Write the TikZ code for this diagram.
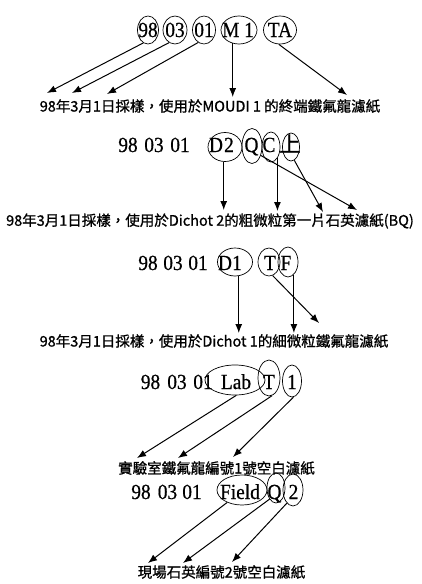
\documentclass[tikz,border=0pt]{standalone}
\usepackage{fontspec}
\setmainfont{Liberation Serif}
\newfontfamily\codefont[FakeStretch=0.9,FakeBold=0.6]{Liberation Serif}
\newfontfamily\cjk[FakeBold=1]{Noto Sans CJK TC}
\usetikzlibrary{arrows.meta,shapes.geometric}
\begin{document}
\begin{tikzpicture}[x=1pt,y=-1pt,
  code/.style={inner sep=0pt, text height=14pt, text depth=0pt, font=\codefont\fontsize{21.5}{21.5}\selectfont},
  ring/.style={ellipse, draw, line width=0.7pt, inner sep=0pt},
  lab/.style={inner sep=0pt, font=\cjk\fontsize{14.5}{16}\selectfont},
  arr/.style={-{Latex[length=9pt,width=7pt]}, line width=1pt}]
\useasboundingbox (0,0) rectangle (422,584);

% ---------- Row 1 ----------
\node[code] (t1a) at (148,30) {98};
\node[code] (t1b) at (175,30) {03};
\node[code] (t1c) at (204,30) {01};
\node[code] (t1d) at (238,30) {M 1};
\node[code] (t1e) at (280,30) {TA};
\node[ring, minimum width=21pt, minimum height=28pt] (e1a) at (148,30) {};
\node[ring, minimum width=24pt, minimum height=28pt] (e1b) at (175,30) {};
\node[ring, minimum width=23pt, minimum height=28pt] (e1c) at (204,30) {};
\node[ring, minimum width=36pt, minimum height=28pt] (e1d) at (239,30) {};
\node[ring, minimum width=33pt, minimum height=28pt] (e1e) at (280,30) {};
\node[lab] (L1) at (210,106) {98年3月1日採樣，使用於MOUDI 1 的終端鐵氟龍濾紙};
\coordinate (p1a) at (47,93);
\coordinate (p1b) at (72,93);
\coordinate (p1c) at (107,94);
\coordinate (p1d) at (233,97);
\coordinate (p1e) at (347,95);
\draw[arr] (e1a.250) -- (p1a);
\draw[arr] (e1b.245) -- (p1b);
\draw[arr] (e1c.245) -- (p1c);
\draw[arr] (e1d.245) -- (e1d.245 |- p1d);
\draw[arr] (e1e.265) -- (p1e);

% ---------- Row 2 ----------
\node[code] (t2a) at (128,145) {98};
\node[code] (t2b) at (154,145) {03};
\node[code] (t2c) at (180,145) {01};
\node[code] (t2d) at (216,145) {D};
\node[code] (t2e) at (229,145) {2};
\node[code] (t2f) at (251.5,145) {Q};
\node[code] (t2g) at (269,145) {C};
\node[code] (t2h) at (290,145) {\cjk 上};
\node[ring, minimum width=34pt, minimum height=29pt] (e2a) at (225,147) {};
\node[ring, minimum width=20pt, minimum height=35pt] (e2b) at (252,146) {};
\node[ring, minimum width=18pt, minimum height=30pt] (e2c) at (271,147) {};
\node[ring, minimum width=17pt, minimum height=28pt] (e2d) at (291,147) {};
\node[lab] (L2) at (210,221) {98年3月1日採樣，使用於Dichot 2的粗微粒第一片石英濾紙(BQ)};
\coordinate (p2a) at (223,210);
\coordinate (p2b) at (357,210);
\coordinate (p2c) at (277,211);
\coordinate (p2d) at (323,212);
\draw[arr] (e2a.265) -- (e2a.265 |- p2a);
\draw[arr] (e2b.313) -- (p2b);
\draw[arr] (e2c.300) -- (e2c.300 |- p2c);
\draw[arr] (e2d.284) -- (p2d);

% ---------- Row 3 ----------
\node[code] (t3a) at (148,263) {98};
\node[code] (t3b) at (173,263) {03};
\node[code] (t3c) at (198,263) {01};
\node[code] (t3d) at (225,263) {D};
\node[code] (t3e) at (237,263) {1};
\node[code] (t3f) at (270,263) {T};
\node[code] (t3g) at (286,263) {F};
\node[ring, minimum width=35pt, minimum height=28pt] (e3a) at (235,262) {};
\node[ring, minimum width=22pt, minimum height=28pt] (e3b) at (269,262) {};
\node[ring, minimum width=20pt, minimum height=30pt] (e3c) at (288,262) {};
\node[lab] (L3) at (214,341) {98年3月1日採樣，使用於Dichot 1的細微粒鐵氟龍濾紙};
\coordinate (p3a) at (239,333);
\coordinate (p3b) at (319,323);
\coordinate (p3c) at (293,333);
\draw[arr] (e3a.285) -- (e3a.285 |- p3a);
\draw[arr] (e3b.285) -- (p3b);
\draw[arr] (e3c.295) -- (e3c.295 |- p3c);

% ---------- Row 4 ----------
\node[code] (t4a) at (150.5,382) {98};
\node[code] (t4b) at (177,382) {03};
\node[code] (t4c) at (203,382) {01};
\node[code] (t4d) at (236,382) {Lab};
\node[code] (t4e) at (269,382) {T};
\node[code] (t4f) at (292,382) {1};
\node[ring, minimum width=60pt, minimum height=30pt] (e4a) at (235,380) {};
\node[ring, minimum width=22pt, minimum height=36pt] (e4b) at (269,378) {};
\node[ring, minimum width=19pt, minimum height=32pt] (e4c) at (292,381) {};
\node[lab] (L4) at (216.5,468) {實驗室鐵氟龍編號1號空白濾紙};
\coordinate (p4a) at (137,458);
\coordinate (p4b) at (178,458);
\coordinate (p4c) at (233,457);
\draw[arr] (e4a.275) -- (p4a);
\draw[arr] (e4b.280) -- (p4b);
\draw[arr] (e4c.275) -- (p4c);

% ---------- Row 5 ----------
\node[code] (t5a) at (141,492) {98};
\node[code] (t5b) at (167.5,492) {03};
\node[code] (t5c) at (192,492) {01};
\node[code] (t5d) at (240,492) {Field};
\node[code] (t5e) at (274.5,492) {Q};
\node[code] (t5f) at (293.5,492) {2};
\node[ring, minimum width=50pt, minimum height=30pt] (e5a) at (242,490) {};
\node[ring, minimum width=18pt, minimum height=30pt] (e5b) at (276,488) {};
\node[ring, minimum width=20pt, minimum height=32pt] (e5c) at (293,490) {};
\node[lab] (L5) at (221.5,572) {現場石英編號2號空白濾紙};
\coordinate (p5a) at (148,563);
\coordinate (p5b) at (183,563);
\coordinate (p5c) at (232,562);
\draw[arr] (e5a.220) -- (p5a);
\draw[arr] (e5b.240) -- (p5b);
\draw[arr] (e5c.245) -- (p5c);
\end{tikzpicture}
\end{document}
